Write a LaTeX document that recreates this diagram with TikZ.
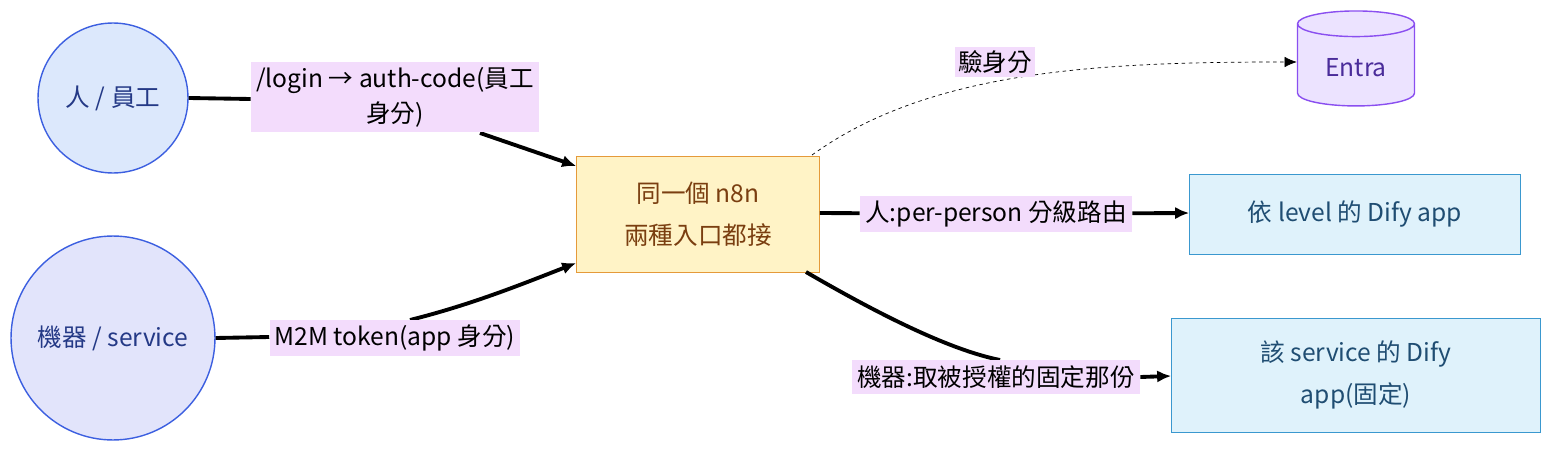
\documentclass[tikz,border=0pt]{standalone}
\usepackage{fontspec}
\setmainfont{Noto Sans CJK TC}
\usetikzlibrary{shapes.geometric,arrows.meta}
\definecolor{circA}{HTML}{DCE8FC}
\definecolor{circB}{HTML}{E2E4FB}
\definecolor{circLine}{HTML}{3C5FE0}
\definecolor{hubFill}{HTML}{FFF3C6}
\definecolor{hubLine}{HTML}{E59A3A}
\definecolor{hubText}{HTML}{7A3E10}
\definecolor{dbFill}{HTML}{ECE3FF}
\definecolor{dbLine}{HTML}{8A4FF0}
\definecolor{dbText}{HTML}{4A2C9A}
\definecolor{appFill}{HTML}{DFF2FB}
\definecolor{appLine}{HTML}{3A98CF}
\definecolor{appText}{HTML}{1F4D72}
\definecolor{lblFill}{HTML}{F3DCFC}
\tikzset{
  who/.style={circle,draw=circLine,thick,inner sep=0pt,text=circLine!60!black,font=\fontsize{14}{18}\selectfont},
  lbl/.style={fill=lblFill,inner sep=3pt,font=\fontsize{14}{20}\selectfont,align=center},
  flow/.style={line width=2.2pt,-{Latex[length=8pt,width=7pt]}},
  link/.style={line width=2.2pt},
}
\begin{document}
\begin{tikzpicture}[x=0.02cm,y=-0.02cm]
    % 邊界
    \useasboundingbox (0,0) rectangle (1568,456);

    % 兩個來源
    \node[who,fill=circA,minimum size=3cm] (person) at (113,98) {人 / 員工};
    \node[who,fill=circB,minimum size=4.08cm] (machine) at (113,338) {機器 / service};

    % 中間的 n8n
    \node[draw=hubLine,fill=hubFill,text=hubText,minimum width=4.86cm,minimum height=2.32cm,
          align=center,font=\fontsize{14}{24}\selectfont] (hub) at (698,214) {同一個 n8n\\兩種入口都接};

    % 目的地
    \node[cylinder,shape border rotate=90,aspect=0.35,draw=dbLine,thick,fill=dbFill,text=dbText,
          minimum width=2.34cm,minimum height=1.9cm,font=\fontsize{14}{18}\selectfont] (entra) at (1356,68) {Entra};
    \node[draw=appLine,fill=appFill,text=appText,minimum width=6.62cm,minimum height=1.6cm,
          font=\fontsize{14}{18}\selectfont] (app1) at (1355,214) {依 level 的 Dify app};
    \node[draw=appLine,fill=appFill,text=appText,minimum width=7.38cm,minimum height=2.28cm,
          align=center,font=\fontsize{14}{24}\selectfont] (app2) at (1356,375) {該 service 的 Dify\\app(固定)};

    % 標籤
    \node[lbl,minimum width=5.58cm] (lLogin) at (395,97) {/login → auth-code(員工\\身分)};
    \node[lbl] (lM2M) at (395,338) {M2M token(app 身分)};
    \node[lbl] (lPer) at (996,214) {人:per-person 分級路由};
    \node[lbl] (lFix) at (996,377) {機器:取被授權的固定那份};
    \node[fill=lblFill,inner sep=2pt,font=\fontsize{14}{18}\selectfont] (lAuth) at (995,62) {驗身分};

    % 連線
    \draw[link] (person.east) -- (lLogin.west |- 0,99);
    \draw[flow] (480,133) -- (hub.north west |- 0,166);
    \draw[link] (machine.east) -- (lM2M.west |- 0,337);
    \draw[flow] (410,320) .. controls (470,305) and (520,285) .. (hub.south west |- 0,263);
    \draw[link] (hub.east |- 0,213) -- (lPer);
    \draw[flow] (lPer) -- (app1.west |- 0,213);
    \draw[link] (806,272) .. controls (880,315) and (950,350) .. (1000,360);
    \draw[flow] (lFix.east) -- (app2.west |- 0,376);
    \draw[dash pattern=on 2pt off 2pt,-{Latex[length=7pt,width=6pt]}] (812,155)
        .. controls (930,70) and (1100,62) .. (entra.west |- 0,62);
    % 標籤蓋在線上
    \node[lbl,minimum width=5.58cm] at (lLogin) {/login → auth-code(員工\\身分)};
    \node[lbl] at (lM2M) {M2M token(app 身分)};
    \node[lbl] at (lPer) {人:per-person 分級路由};
    \node[lbl] at (lFix) {機器:取被授權的固定那份};
    \node[fill=lblFill,inner sep=2pt,font=\fontsize{14}{18}\selectfont] at (lAuth) {驗身分};
\end{tikzpicture}
\end{document}
